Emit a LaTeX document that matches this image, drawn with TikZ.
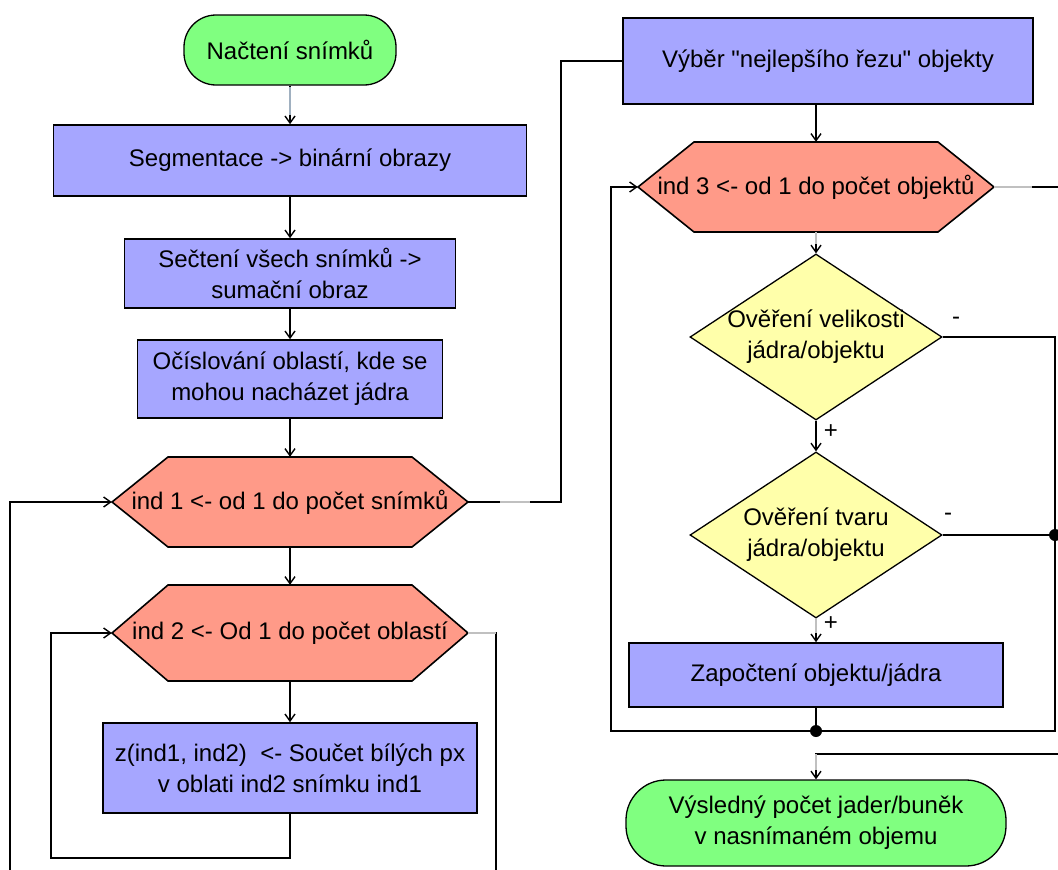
\documentclass[tikz,border=0pt]{standalone}
\usepackage{fontspec}
\setmainfont{Liberation Sans}[Ligatures=TeXOff]
\usetikzlibrary{shapes.geometric,arrows.meta}
\definecolor{boxblue}{RGB}{166,166,255}
\definecolor{hexred}{RGB}{255,154,136}
\definecolor{diayel}{RGB}{255,255,170}
\definecolor{termgreen}{RGB}{128,255,128}
\definecolor{lgray}{RGB}{192,192,192}
\definecolor{bgray}{RGB}{160,176,192}
\newcommand\hexshape[5]{% name, x, y, height, text
  \draw[hexdraw] (#2-178,#3) -- (#2-122,#3-#4/2) -- (#2+122,#3-#4/2) -- (#2+178,#3)
     -- (#2+122,#3+#4/2) -- (#2-122,#3+#4/2) -- cycle;
  \node[hexnode, minimum height=#4 pt] (#1) at (#2,#3) {#5};}
\begin{document}
\begin{tikzpicture}[x=1pt,y=-1pt,
  every node/.style={font=\fontsize{24}{31}\selectfont, align=center, text=black},
  proc/.style={draw, line width=1.6pt, fill=boxblue, inner sep=0pt},
  term/.style={draw, line width=1.3pt, fill=termgreen, inner sep=0pt},
  hexdraw/.style={draw, line width=1.6pt, fill=hexred},
  hexnode/.style={inner sep=0pt, minimum width=356pt},
  dia/.style={diamond, draw, line width=1.3pt, fill=diayel, inner sep=0pt,
              minimum width=252pt, minimum height=166pt},
  txt/.style={inner sep=0pt},
  lab/.style={inner sep=0pt},
  line/.style={draw, line width=1.6pt},
  arr/.style={line, -{Straight Barb[length=7pt,width=10pt,line width=1.4pt]}},
  ov/.style={line width=1.6pt, draw=lgray},
  dot/.style={fill=black}
]
\useasboundingbox (0,0) rectangle (1058,870);

% ---------- left column ----------
\node[term, rounded corners=32pt, minimum width=212pt, minimum height=70pt] (start) at (290,50) {Načtení snímků};
\node[proc, minimum width=473pt, minimum height=71pt] (b1) at (290,160.5) {Segmentace -> binární obrazy};
\node[proc, minimum width=331pt, minimum height=69pt] (b2) at (290,273.5) {Sečtení všech snímků ->\\sumační obraz};
\node[proc, minimum width=305pt, minimum height=78pt] (b3) at (290,379) {Očíslování oblastí, kde se\\mohou nacházet jádra};
\hexshape{h1}{290}{502}{90}{ind 1 <- od 1 do počet snímků}
\hexshape{h2}{290}{633}{96}{ind 2 <- Od 1 do počet oblastí}
\node[proc, minimum width=374pt, minimum height=90pt] (b4) at (290,768) {z(ind1, ind2)~ <- Součet bílých px\\v oblati ind2 snímku ind1};

% ---------- right column ----------
\node[proc, minimum width=410pt, minimum height=86pt] (b5) at (828,61) {Výběr "nejlepšího řezu" objekty};
\hexshape{h3}{816}{187}{90}{ind 3 <- od 1 do počet objektů}
\node[dia] (d1) at (816,337) {};
\node[txt] (d1t) at (816,337) {Ověření velikosti\\jádra/objektu};
\node[dia] (d2) at (816,535) {};
\node[txt] (d2t) at (816,535) {Ověření tvaru\\jádra/objektu};
\node[proc, minimum width=374pt, minimum height=64pt] (b6) at (816,675) {Započtení objektu/jádra};
\node[term, rounded corners=40pt, minimum width=380pt, minimum height=86pt] (fin) at (816,823) {Výsledný počet jader/buněk\\v nasnímaném objemu};

% ---------- free ends / corners ----------
\coordinate (l1) at (10,870);
\coordinate (l2) at (51,858);
\coordinate (r2) at (496,870);
\coordinate (j1) at (561,502);
\coordinate (r3) at (1058,187);
\coordinate (rc) at (1055,731);
\coordinate (lc) at (611,731);
\coordinate (fe) at (1058,754);

% ---------- connectors, left ----------
\draw[arr] (start) -- (b1);
\draw[ov, draw=bgray] ([yshift=-1pt]start.south) -- ([yshift=9pt]b1.north);
\draw[arr] (b1) -- (b2);
\draw[arr] (b2) -- (b3);
\draw[arr] (b3) -- (h1);
\draw[arr] (h1) -- (h2);
\draw[arr] (h2) -- (b4);
\draw[arr] (b4.south) |- (l2) |- (h2.west);
\draw[arr] (l1) |- (h1.west);
\draw[line] (h2.east) -| (r2);
\draw[ov] (h2.east) -- (h2.east -| r2);
\draw[line] (h1.east) -- (j1) |- (b5.west);
\draw[ov] ([xshift=32pt]h1.east) -- ([xshift=62pt]h1.east);

% ---------- connectors, right ----------
\draw[arr] (b5.south -| h3.north) -- (h3.north);
\draw[line] (h3.east) -- (r3);
\draw[ov] (h3.east) -- ([xshift=38pt]h3.east);
\draw[arr] (h3) -- (d1);
\draw[ov] (h3.south) -- ([yshift=9pt]d1.north);
\draw[arr] (d1) -- (d2) node[lab, pos=0.35, right=7pt] (p1) {+};
\draw[arr] (d2) -- (b6) node[lab, pos=0.2, right=7pt] (p2) {+};
\draw[ov] (d2.south) -- ([yshift=9pt]b6.north);
\draw[arr] (d1.east) -| (rc) -- (lc) |- (h3.west);
\node[lab] (m1) at (956,321) {-};
\draw[line] (d2.east) -- (d2.east -| rc);
\node[lab] (m2) at (948,517) {-};
\fill[dot] (d2.east -| rc) circle (6pt);
\draw[line] (b6.south) -- (b6.south |- rc);
\fill[dot] (b6.south |- rc) circle (6pt);
\draw[arr] (fe) -| (fin.north);
\draw[ov] (fin.north |- fe) -- ([yshift=9pt]fin.north);
\end{tikzpicture}
\end{document}
